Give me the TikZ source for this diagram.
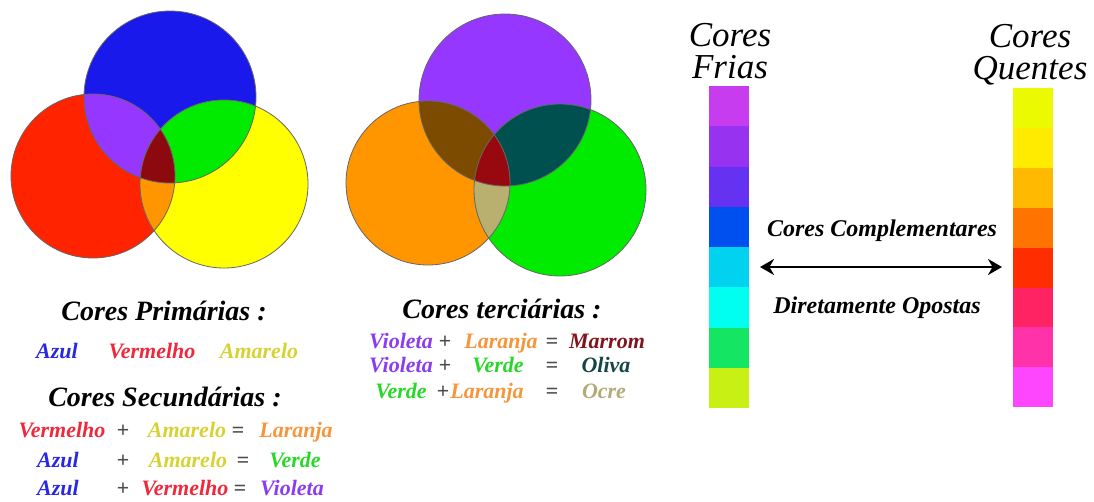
\documentclass[tikz,border=0pt]{standalone}
\usepackage{fontspec}
\setmainfont{Liberation Serif}
\newfontfamily\serifa{Liberation Serif}
\usetikzlibrary{arrows.meta}

\definecolor{azul}{RGB}{25,25,235}
\definecolor{verm}{RGB}{255,35,0}
\definecolor{amar}{RGB}{255,255,0}
\definecolor{viol}{RGB}{150,55,255}
\definecolor{lara}{RGB}{255,150,0}
\definecolor{verd}{RGB}{0,235,0}
\definecolor{escuro}{RGB}{140,10,15}
\definecolor{marr}{RGB}{125,75,0}
\definecolor{oliv}{RGB}{0,80,80}
\definecolor{ocre}{RGB}{185,175,110}
% cores dos textos
\definecolor{tazul}{RGB}{40,40,225}
\definecolor{tverm}{RGB}{240,40,60}
\definecolor{tamar}{RGB}{215,210,50}
\definecolor{tlara}{RGB}{245,150,60}
\definecolor{tverd}{RGB}{40,215,40}
\definecolor{tviol}{RGB}{140,60,240}
\definecolor{tmarr}{RGB}{130,20,30}
\definecolor{toliv}{RGB}{20,70,70}
\definecolor{tocre}{RGB}{180,170,120}

\begin{document}
\begin{tikzpicture}[x=1pt,y=-1pt]
\tikzstyle{titulo}=[font=\serifa\fontsize{28}{30}\selectfont\bfseries\itshape,inner sep=0pt,anchor=base]
\tikzstyle{cor}=[font=\serifa\fontsize{22}{24}\selectfont\bfseries\itshape,inner sep=0pt,anchor=base]
\tikzstyle{sinal}=[cor,text=black!70]
\tikzstyle{grande}=[font=\serifa\fontsize{35}{36}\selectfont\itshape,inner sep=0pt,anchor=base]
\tikzstyle{meio}=[font=\serifa\fontsize{24}{26}\selectfont\bfseries\itshape,inner sep=0pt,anchor=base]
\tikzstyle{borda}=[draw=black!60,line width=0.8pt]
\useasboundingbox (0,0) rectangle (1094,501);

% primarias
\coordinate (a1) at (170,97);
\coordinate (a2) at (93,176);
\coordinate (a3) at (224,184);
\fill[azul] (a1) circle (86);
\fill[verm] (a2) circle (82);
\fill[amar] (a3) circle (84);
\begin{scope}
\clip (a1) circle (86);
\fill[viol] (a2) circle (82);
\fill[verd] (a3) circle (84);
\end{scope}
\begin{scope}
\clip (a2) circle (82);
\fill[lara] (a3) circle (84);
\end{scope}
\begin{scope}
\clip (a1) circle (86);
\clip (a2) circle (82);
\fill[escuro] (a3) circle (84);
\end{scope}
\draw[borda] (a1) circle (86) (a2) circle (82) (a3) circle (84);

% secundarias
\coordinate (b1) at (505,100);
\coordinate (b2) at (428,183);
\coordinate (b3) at (560,190);
\fill[viol] (b1) circle (86);
\fill[lara] (b2) circle (82);
\fill[verd] (b3) circle (86);
\begin{scope}
\clip (b1) circle (86);
\fill[marr] (b2) circle (82);
\fill[oliv] (b3) circle (86);
\end{scope}
\begin{scope}
\clip (b2) circle (82);
\fill[ocre] (b3) circle (86);
\end{scope}
\begin{scope}
\clip (b1) circle (86);
\clip (b2) circle (82);
\fill[escuro!90!red] (b3) circle (86);
\end{scope}
\draw[borda] (b1) circle (86) (b2) circle (82) (b3) circle (86);

% textos
\node[titulo] (p) at (164,320) {Cores Primárias :};
\node[cor,text=tazul] (p1) at (57,358) {Azul};
\node[cor,text=tverm] (p2) at (152,358) {Vermelho};
\node[cor,text=tamar] (p3) at (259,358) {Amarelo};

\node[titulo] (s) at (165,406) {Cores Secundárias :};
\node[cor,text=tverm] (s11) at (62,437) {Vermelho};
\node[sinal] (s12) at (123,437) {+};
\node[cor,text=tamar] (s13) at (187,437) {Amarelo};
\node[sinal] (s14) at (238,437) {=};
\node[cor,text=tlara] (s15) at (296,437) {Laranja};
\node[cor,text=tazul] (s21) at (58,467) {Azul};
\node[sinal] (s22) at (123,467) {+};
\node[cor,text=tamar] (s23) at (188,467) {Amarelo};
\node[sinal] (s24) at (243,467) {=};
\node[cor,text=tverd] (s25) at (295,467) {Verde};
\node[cor,text=tazul] (s31) at (58,495) {Azul};
\node[sinal] (s32) at (123,495) {+};
\node[cor,text=tverm] (s33) at (185,495) {Vermelho};
\node[sinal] (s34) at (240,495) {=};
\node[cor,text=tviol] (s35) at (292,495) {Violeta};

\node[titulo] (t) at (502,318) {Cores terciárias :};
\node[cor,text=tviol] (t11) at (401,348) {Violeta};
\node[sinal] (t12) at (445,348) {+};
\node[cor,text=tlara] (t13) at (501,348) {Laranja};
\node[sinal] (t14) at (552,348) {=};
\node[cor,text=tmarr] (t15) at (607,348) {Marrom};
\node[cor,text=tviol] (t21) at (401,372) {Violeta};
\node[sinal] (t22) at (445,372) {+};
\node[cor,text=tverd] (t23) at (498,372) {Verde};
\node[sinal] (t24) at (552,372) {=};
\node[cor,text=toliv] (t25) at (606,372) {Oliva};
\node[cor,text=tverd] (t31) at (401,398) {Verde};
\node[sinal] (t32) at (443,398) {+};
\node[cor,text=tlara] (t33) at (487,398) {Laranja};
\node[sinal] (t34) at (552,398) {=};
\node[cor,text=tocre] (t35) at (604,398) {Ocre};

% barras
\foreach \r/\g/\b [count=\i from 0] in {200/60/240,150/50/240,100/50/240,0/80/240,0/210/240,0/255/240,20/230/100,200/240/20}
{
  \definecolor{fria}{RGB}{\r,\g,\b}
  \fill[fria] (709,86+40.25*\i) rectangle ++(40,40.25);
}
\foreach \r/\g/\b [count=\i from 0] in {235/250/0,255/235/0,255/185/0,255/115/0,255/45/0,255/35/100,255/50/170,255/70/255}
{
  \definecolor{quente}{RGB}{\r,\g,\b}
  \fill[quente] (1013,88+39.9*\i) rectangle ++(40,39.9);
}
\node[grande] (f1) at (730,46) {Cores};
\node[grande] (f2) at (730,78) {Frias};
\node[grande] (q1) at (1030,47) {Cores};
\node[grande] (q2) at (1030,79) {Quentes};

\coordinate (e) at (760,267);
\coordinate (d) at (1002,267);
\draw[line width=2.6pt,{Stealth[length=14pt,width=16pt]}-{Stealth[length=14pt,width=16pt]}] (e) -- (d);
\node[meio] (c) at (882,236) {Cores Complementares};
\node[meio] (o) at (877,313) {Diretamente Opostas};
\end{tikzpicture}
\end{document}
